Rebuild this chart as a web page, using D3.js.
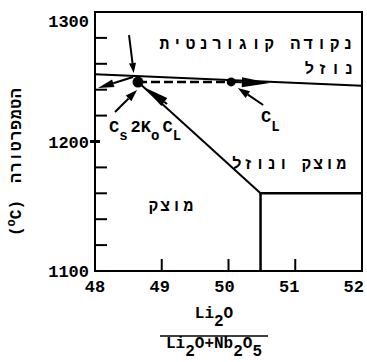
<!DOCTYPE html>
<html>
<head>
<meta charset="utf-8">
<script src="https://cdn.jsdelivr.net/npm/d3@7"></script>
<style>
  body { margin: 0; background: #fff; }
  text { font-family: "Liberation Mono", "DejaVu Sans Mono", monospace; fill: #000; font-weight: bold; }
</style>
</head>
<body>
<div id="chart"></div>
<script>
// axis values
const xTicks = [48, 49, 50, 51, 52];
const xInnerTicks = [49, 50, 51];
const yLabels = [1100, 1200, 1300];
const yInnerTicks = [1120, 1140, 1160, 1180, 1220, 1240, 1260, 1280];

// phase diagram lines (composition %, temperature C)
const liquidus = [[48, 1252], [52, 1243]];
const solidus = [[48.644, 1245.9], [50.48, 1160]];
const boundary = [[52, 1160], [50.48, 1160], [50.48, 1100]];
const tieLine = [[48.644, 1245.9], [50.04, 1246]];
const dots = [[48.644, 1245.9], [50.04, 1246]];

// annotation arrows, from -> to (tip)
const arrows = [
  [[48.51, 1282.2], [48.58, 1252.9]],
  [[48.57, 1249.8], [48.045, 1241.3]],
  [[48.30, 1222.8], [48.63, 1239.8]],
  [[50.52, 1228.2], [50.14, 1241.3]],
  [[50.04, 1246], [50.62, 1245.2]],
  [[49.08, 1229], [48.734, 1241.8]]
];

const W = 367, H = 362;
const margin = {top: 12, right: 5, bottom: 91, left: 95};

const svg = d3.select("#chart").append("svg")
  .attr("width", W).attr("height", H);

const x = d3.scaleLinear().domain([48, 52]).range([margin.left, W - margin.right]);
const y = d3.scaleLinear().domain([1100, 1300]).range([H - margin.bottom, margin.top]);

const line = d3.line().x(d => x(d[0])).y(d => y(d[1]));

// frame
svg.append("rect")
  .attr("x", x(48)).attr("y", y(1300))
  .attr("width", x(52) - x(48)).attr("height", y(1100) - y(1300))
  .attr("fill", "none").attr("stroke", "#000").attr("stroke-width", 2);

// inner ticks
svg.selectAll(".xt").data(xInnerTicks).join("line")
  .attr("x1", d => x(d)).attr("x2", d => x(d))
  .attr("y1", y(1100)).attr("y2", y(1100) - 12)
  .attr("stroke", "#000").attr("stroke-width", 2);

svg.selectAll(".yt").data(yInnerTicks).join("line")
  .attr("x1", x(48)).attr("x2", x(48) + 12)
  .attr("y1", d => y(d)).attr("y2", d => y(d))
  .attr("stroke", "#000").attr("stroke-width", 2);

svg.append("line")
  .attr("x1", x(48) - 5).attr("x2", x(48) + 5)
  .attr("y1", y(1200)).attr("y2", y(1200))
  .attr("stroke", "#000").attr("stroke-width", 3);

// tick labels
svg.selectAll(".xl").data(xTicks).join("text")
  .attr("x", (d, i) => i === xTicks.length - 1 ? x(d) + 2 : x(d) - i * 2)
  .attr("y", y(1100) + 21)
  .attr("text-anchor", (d, i) => i === xTicks.length - 1 ? "end" : "middle")
  .attr("font-size", 17)
  .text(d => d);

svg.selectAll(".yl").data(yLabels).join("text")
  .attr("x", x(48) - 6).attr("y", (d, i) => y(d) + (i === 2 ? 15 : 6))
  .attr("text-anchor", "end").attr("font-size", 17)
  .text(d => d);

// lines
svg.append("path").datum(liquidus).attr("d", line)
  .attr("fill", "none").attr("stroke", "#000").attr("stroke-width", 2);
svg.append("path").datum(solidus).attr("d", line)
  .attr("fill", "none").attr("stroke", "#000").attr("stroke-width", 2);
svg.append("path").datum(boundary).attr("d", line)
  .attr("fill", "none").attr("stroke", "#000").attr("stroke-width", 2.5);
svg.append("path").datum(tieLine).attr("d", line)
  .attr("fill", "none").attr("stroke", "#000").attr("stroke-width", 2.5)
  .attr("stroke-dasharray", "9,4");

svg.selectAll(".dot").data(dots).join("circle")
  .attr("cx", d => x(d[0])).attr("cy", d => y(d[1]))
  .attr("r", (d, i) => i === 0 ? 5.5 : 4.5)
  .attr("fill", "#000");

// arrows
const heads = [[10, 3.5], [16, 4], [12, 4], [12, 4], [28, 5], [25, 5]];
arrows.forEach((a, i) => {
  const x0 = x(a[0][0]), y0 = y(a[0][1]);
  const x1 = x(a[1][0]), y1 = y(a[1][1]);
  const len = Math.hypot(x1 - x0, y1 - y0);
  const ux = (x1 - x0) / len, uy = (y1 - y0) / len;
  const [hl, hw] = heads[i];
  const bx = x1 - ux * hl, by = y1 - uy * hl;
  svg.append("line")
    .attr("x1", x0).attr("y1", y0).attr("x2", bx).attr("y2", by)
    .attr("stroke", "#000").attr("stroke-width", 2);
  svg.append("path")
    .attr("d", `M${x1},${y1}L${bx - uy * hw},${by + ux * hw}L${bx + uy * hw},${by - ux * hw}Z`)
    .attr("fill", "#000");
});

// region labels
svg.append("text").attr("x", 356).attr("y", 49)
  .attr("text-anchor", "end").attr("font-size", 16).attr("letter-spacing", 3.5)
  .text("נקודה קוגורנטית");
svg.append("text").attr("x", 357).attr("y", 74)
  .attr("text-anchor", "end").attr("font-size", 16).attr("letter-spacing", 3.5)
  .text("נוזל");
svg.append("text").attr("x", 348).attr("y", 169)
  .attr("text-anchor", "end").attr("font-size", 16).attr("letter-spacing", 2)
  .text("מוצק ונוזל");
svg.append("text").attr("x", 195).attr("y", 211)
  .attr("text-anchor", "end").attr("font-size", 16).attr("letter-spacing", 2)
  .text("מוצק");

// C labels
const cs = svg.append("text").attr("x", 109).attr("y", 132).attr("font-size", 17);
cs.append("tspan").text("C");
cs.append("tspan").attr("dy", 8).attr("font-size", 14).text("s");
cs.append("tspan").attr("dy", -8).attr("dx", 3).text("2K");
cs.append("tspan").attr("dy", 8).attr("font-size", 14).text("o");
cs.append("tspan").attr("dy", -8).attr("dx", 3).text("C");
cs.append("tspan").attr("dy", 8).attr("font-size", 14).text("L");

const cl = svg.append("text").attr("x", 261).attr("y", 122).attr("font-size", 17);
cl.append("tspan").text("C");
cl.append("tspan").attr("dy", 9).attr("font-size", 14).text("L");

// y axis label
svg.append("text")
  .attr("transform", "translate(21,135) rotate(-90)")
  .attr("text-anchor", "middle").attr("font-size", 16).attr("letter-spacing", 1)
  .text("הטמפרטורה");
const yu = svg.append("text")
  .attr("transform", "translate(21,218) rotate(-90)")
  .attr("text-anchor", "middle").attr("font-size", 16);
yu.append("tspan").text("(");
yu.append("tspan").attr("dy", -6).attr("font-size", 12).text("o");
yu.append("tspan").attr("dy", 6).text("C)");

// x axis label as fraction
const num = svg.append("text").attr("x", 214).attr("y", 318)
  .attr("text-anchor", "middle").attr("font-size", 16);
num.append("tspan").text("Li");
num.append("tspan").attr("dy", 8).text("2");
num.append("tspan").attr("dy", -8).text("O");

svg.append("line").attr("x1", 160).attr("x2", 268).attr("y1", 336).attr("y2", 336)
  .attr("stroke", "#000").attr("stroke-width", 1.5);

const den = svg.append("text").attr("x", 214).attr("y", 348)
  .attr("text-anchor", "middle").attr("font-size", 16);
den.append("tspan").text("Li");
den.append("tspan").attr("dy", 8).text("2");
den.append("tspan").attr("dy", -8).text("O+Nb");
den.append("tspan").attr("dy", 8).text("2");
den.append("tspan").attr("dy", -8).text("O");
den.append("tspan").attr("dy", 8).text("5");
</script>
</body>
</html>
